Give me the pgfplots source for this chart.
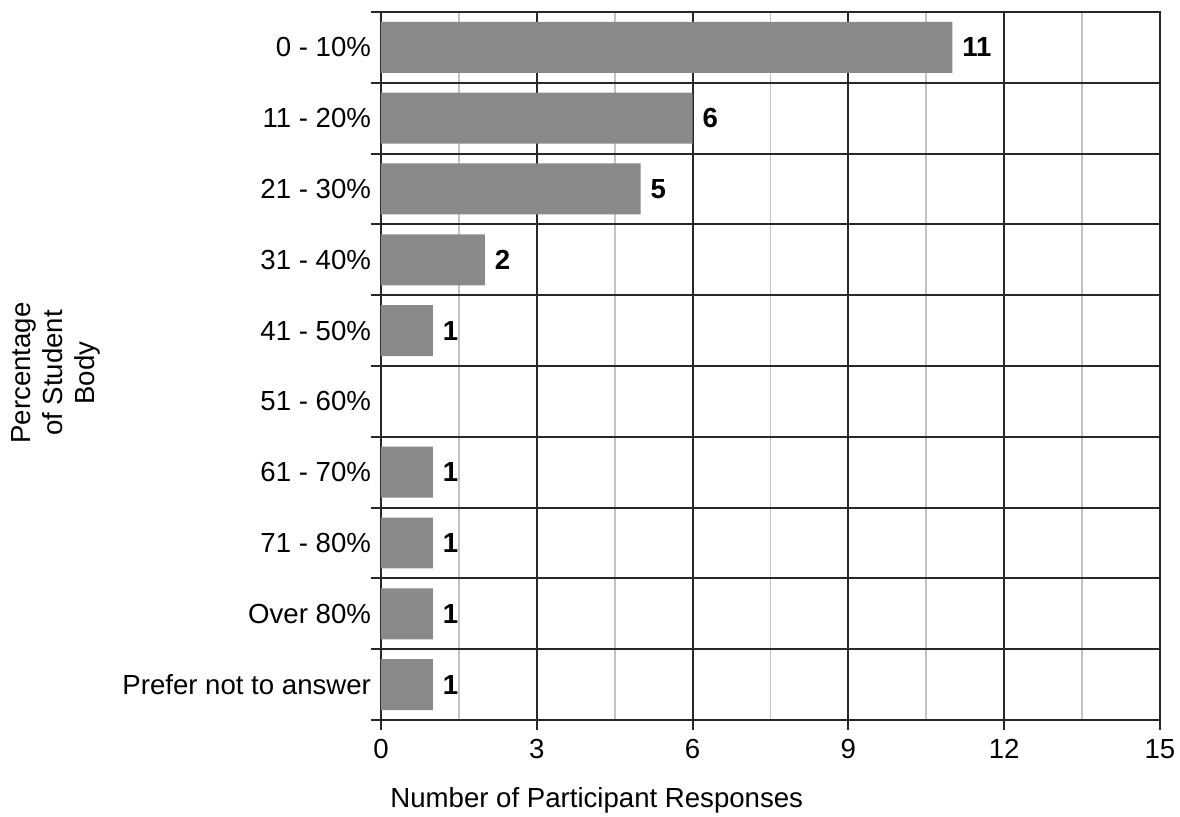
\documentclass[border=0pt]{standalone}
\usepackage{pgfplots}
\pgfplotsset{compat=1.18}
\usepackage{fontspec}
\setmainfont{Liberation Sans}
\definecolor{barcol}{RGB}{137,137,137}
\definecolor{gridmaj}{RGB}{40,40,40}
\definecolor{gridmin}{RGB}{195,195,195}
\begin{document}
\begin{tikzpicture}
\useasboundingbox (0,0) rectangle (590pt,408.5pt);
\begin{axis}[
  at={(190.5pt,48.5pt)}, anchor=south west,
  scale only axis, width=389.5pt, height=354pt,
  xbar, bar width=0.72,
  xmin=0, xmax=15, ymin=-0.5, ymax=9.5,
  y dir=reverse,
  font=\fontsize{13.8}{16}\selectfont,
  /pgf/number format/assume math mode=true,
  axis line style={gridmaj, line width=1pt},
  xtick={0,3,6,9,12,15},
  minor xtick={1.5,4.5,7.5,10.5,13.5},
  xmajorgrids, xminorgrids,
  major grid style={gridmaj, line width=1pt},
  minor grid style={gridmin, line width=0.9pt},
  tick align=outside,
  xtick pos=bottom, ytick pos=left,
  major tick length=5pt, minor tick length=0pt,
  xtick style={gridmaj, line width=1pt},
  ytick={0,1,2,3,4,5,6,7,8,9},
  yticklabels={0 - 10\%, 11 - 20\%, 21 - 30\%, 31 - 40\%, 41 - 50\%, 51 - 60\%, 61 - 70\%, 71 - 80\%, Over 80\%, Prefer not to answer},
  y tick label style={xshift=3.5pt},
  ytick style={draw=none},
  extra y ticks={-0.5,0.5,1.5,2.5,3.5,4.5,5.5,6.5,7.5,8.5,9.5},
  extra y tick labels={},
  extra y tick style={grid=major, ytick pos=left, ytick style={draw=gridmaj, line width=1pt}},
  x tick label style={yshift=-1pt},
  xlabel={Number of Participant Responses},
  xlabel style={at={(axis description cs:0.277,0)}, anchor=center, yshift=-40pt},
  ylabel={Percentage\\of Student\\Body},
  ylabel style={at={(axis description cs:-0.418,0.49)}, anchor=center, align=center, font=\fontsize{13.8}{16}\selectfont},
  nodes near coords,
  every node near coord/.append style={font=\fontsize{13.8}{16}\selectfont\bfseries, black, xshift=1.5pt},
]
\addplot[fill=barcol, draw=none] coordinates {
 (11,0) (6,1) (5,2) (2,3) (1,4) (1,6) (1,7) (1,8) (1,9)
};
\end{axis}
\end{tikzpicture}
\end{document}
